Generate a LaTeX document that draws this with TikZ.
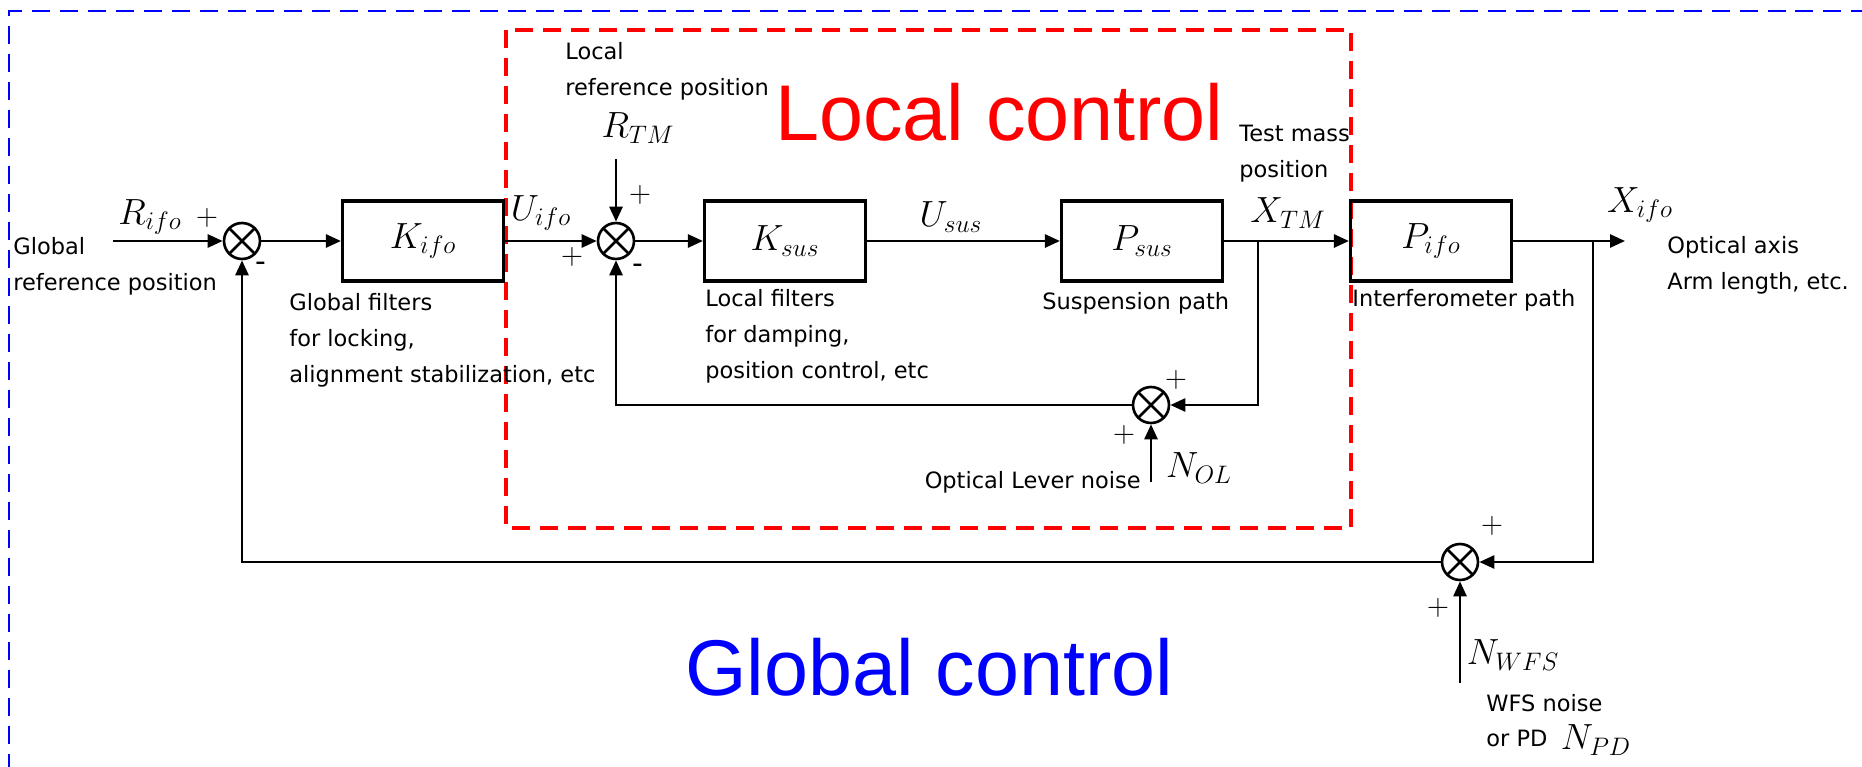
\documentclass[tikz,border=0pt]{standalone}
\usepackage{fontspec}
\newfontfamily\notefont{DejaVu Sans}
\newfontfamily\titlefont{Liberation Sans}
\usetikzlibrary{arrows.meta}
\tikzset{
	block/.style={draw, line width=1.8pt, minimum width=3.22cm, minimum height=1.6cm, inner sep=0pt, font=\fontsize{20}{24}\selectfont},
	summer/.style={draw, circle, line width=1.5pt, minimum size=0.72cm, inner sep=0pt,
		path picture={
			\draw[line width=1.5pt] (path picture bounding box.north west) -- (path picture bounding box.south east)
				(path picture bounding box.north east) -- (path picture bounding box.south west);
		}
	},
	sig/.style={line width=1.5pt, -{Triangle[length=0.3cm, width=0.26cm]}},
	note/.style={font=\notefont\fontsize{12.8}{20.5}\selectfont, align=left, inner sep=0pt},
	sym/.style={font=\fontsize{20.5}{24}\selectfont, inner sep=0pt},
	sign/.style={font=\fontsize{18}{20}\selectfont, inner sep=0pt},
	mydash/.style={dashed, dash pattern=on 0.36cm off 0.2cm, line width=1.8pt}
}
\begin{document}
\begin{tikzpicture}[x=0.02cm, y=-0.02cm]
	\useasboundingbox (0, 0) rectangle (1862, 767);
	\draw[mydash, blue, line width=1.5pt] (9, 800) -- (9, 11) -- (1900, 11);
	\draw[mydash, red] (506, 30) rectangle (1351, 528);
	\node[font=\titlefont\fontsize{45}{50}\selectfont, text=red, anchor=base west, inner sep=0pt] (localtitle) at (775, 140) {Local control};
	\node[font=\titlefont\fontsize{45}{50}\selectfont, text=blue, anchor=base west, inner sep=0pt] (globaltitle) at (685, 695) {Global control};
	\node[summer] (sum1) at (242, 241) {};
	\node[block] (Kifo) at (423, 241) {$K_{ifo}$};
	\node[summer] (sum2) at (616, 241) {};
	\node[block] (Ksus) at (785, 241) {$K_{sus}$};
	\node[block] (Psus) at (1142, 241) {$P_{sus}$};
	\node[block] (Pifo) at (1431, 241) {$P_{ifo}$};
	\node[summer] (sum3) at (1151, 405) {};
	\node[summer] (sum4) at (1460, 562) {};
	\coordinate (in) at (113, 241);
	\coordinate (out) at (1625, 241);
	\coordinate (tm) at (1258, 241);
	\coordinate (ifo) at (1593, 241);
	\coordinate (rtm) at (616, 159);
	\coordinate (nol) at (1151, 482);
	\coordinate (nwfs) at (1460, 683);
	\draw[sig] (in) -- (sum1);
	\draw[sig] (sum1) -- (Kifo);
	\draw[sig] (Kifo) -- (sum2);
	\draw[sig] (rtm) -- (sum2);
	\draw[sig] (sum2) -- (Ksus);
	\draw[sig] (Ksus) -- (Psus);
	\draw[sig] (Psus) -- (Pifo);
	\draw[sig] (Pifo) -- (out);
	\draw[sig] (tm) |- (sum3);
	\draw[sig] (sum3) -| (sum2);
	\draw[sig] (nol) -- (sum3);
	\draw[sig] (ifo) |- (sum4);
	\draw[sig] (sum4) -| (sum1);
	\draw[sig] (nwfs) -- (sum4);
	\node[sym] (Rifo) at (150, 217) {$R_{ifo}$};
	\node[sym] (Uifo) at (541, 213) {$U_{ifo}$};
	\node[sym] (RTM) at (638, 128) {$R_{TM}$};
	\node[sym] (Usus) at (951, 217) {$U_{sus}$};
	\node[sym] (XTM) at (1288, 213) {$X_{TM}$};
	\node[sym] (Xifo) at (1640, 205) {$X_{ifo}$};
	\node[sym] (NOL) at (1199, 468) {$N_{OL}$};
	\node[sym] (NWFS) at (1513, 655) {$N_{WFS}$};
	\node[sym] (NPD) at (1596, 740) {$N_{PD}$};
	\node[sign] (p1) at (207, 218) {$+$};
	\node[note] (m1) at (261, 267) {\fontsize{17}{17}\selectfont -};
	\node[sign] (p2) at (640, 195) {$+$};
	\node[sign] (p3) at (572, 257) {$+$};
	\node[note] (m2) at (638, 269) {\fontsize{17}{17}\selectfont -};
	\node[sign] (p4) at (1176, 380) {$+$};
	\node[sign] (p5) at (1124, 435) {$+$};
	\node[sign] (p6) at (1492, 526) {$+$};
	\node[sign] (p7) at (1438, 608) {$+$};
	\node[note, anchor=west] (globalref) at (13, 266) {Global\\reference position};
	\node[note, anchor=west] (globalfilt) at (289, 340) {Global filters\\for locking,\\alignment stabilization, etc};
	\node[note, anchor=west] (localref) at (565, 71) {Local\\reference position};
	\node[note, anchor=west] (localfilt) at (705, 336) {Local filters\\for damping,\\position control, etc};
	\node[note, anchor=west] (susp) at (1042, 303) {Suspension path};
	\node[note, anchor=west] (tmpos) at (1239, 154) {Test mass\\position};
	\node[note, anchor=west] (ifopath) at (1352, 300) {Interferometer path};
	\node[note, anchor=west] (optaxis) at (1667, 265) {Optical axis\\Arm length, etc.};
	\node[note, anchor=east] (olnoise) at (1141, 482) {Optical Lever noise};
	\node[note, anchor=west] (wfsnoise) at (1486, 703) {WFS noise};
	\node[note, anchor=west] (orpd) at (1486, 738) {or PD};
\end{tikzpicture}
\end{document}
